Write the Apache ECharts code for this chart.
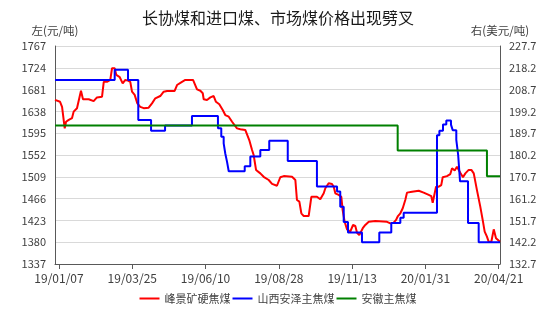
<!DOCTYPE html>
<html><head><meta charset="utf-8">
<script src="https://cdn.jsdelivr.net/npm/echarts@6/dist/echarts.min.js"></script>
<style>html,body{margin:0;padding:0;background:#fff}#c{width:556px;height:312px}</style>
</head><body><div id="c"></div>
<script>
const titleText = '长协煤和进口煤、市场煤价格出现劈叉';
const leftAxisName = '左(元/吨)';
const rightAxisName = '右(美元/吨)';
const seriesNames = ['峰景矿硬焦煤', '山西安泽主焦煤', '安徽主焦煤'];
const seriesColors = ['#ff0000', '#0000ff', '#008000'];
// x: trading-day index; tick labels every 55 days
const xTickPositions = [0, 55, 110, 165, 220, 275, 330];
const xTickLabels = ['19/01/07', '19/03/25', '19/06/10', '19/08/28', '19/11/13', '20/01/31', '20/04/21'];
const leftTicks = [1337, 1380, 1423, 1466, 1509, 1552, 1595, 1638, 1681, 1724, 1767];
const rightTicks = [132.7, 142.2, 151.7, 161.2, 170.7, 180.2, 189.7, 199.2, 208.7, 218.2, 227.7];

// 峰景矿硬焦煤 (USD/t, right axis): [day, value]
const redPoints = [[-3,204.2],[0.8,203.4],[2.3,201.2],[3.5,201.2],[4.3,191.8],[5.3,194.7],[7.3,195.5],[9.8,196.3],[11.0,199.1],[13.5,200.6],[14.8,200.6],[16.5,208.2],[18.0,204.5],[22.3,204.5],[26.0,203.7],[28.5,205.3],[32.3,205.6],[33.6,212.1],[36.0,212.1],[38.5,212.9],[39.8,218.0],[41.8,218.0],[43.0,215.1],[45.6,214.1],[47.8,211.4],[49.8,212.9],[51.8,212.6],[53.5,212.1],[54.8,207.8],[56.8,206.4],[58.8,202.7],[61.0,201.2],[63.6,200.6],[67.3,200.8],[69.8,202.7],[72.3,204.9],[76.0,205.9],[78.6,207.8],[81.1,208.1],[86.8,208.1],[88.6,210.7],[92.3,212.1],[94.8,212.9],[100.6,212.9],[103.6,208.8],[106.1,208.2],[107.9,207.1],[108.6,204.5],[111.1,204.2],[113.6,205.3],[116.1,205.9],[117.8,203.4],[120.3,202.3],[122.9,199.8],[124.8,197.6],[127.4,196.9],[129.9,194.7],[133.6,191.8],[136.1,191.4],[139.8,191.1],[142.8,186.7],[144.9,182.4],[146.1,180.2],[147.9,173.7],[151.1,172.2],[153.6,170.7],[157.4,169.3],[159.9,167.6],[163.6,166.8],[164.4,166.4],[166.1,170.5],[168.7,171.0],[174.9,170.7],[177.4,169.3],[178.6,160.6],[180.4,159.9],[181.9,154.8],[183.7,153.6],[187.4,153.6],[189.4,162.0],[193.6,162.0],[196.1,160.9],[198.7,163.5],[199.9,165.7],[202.4,167.9],[204.9,167.6],[206.2,166.4],[207.4,163.5],[209.9,162.8],[211.9,162.0],[212.9,156.2],[214.4,151.1],[216.2,147.8],[218.6,146.8],[220.7,149.7],[222.4,149.3],[223.7,146.3],[225.4,145.3],[226.9,146.1],[228.0,148.3],[229.9,149.7],[232.5,151.1],[237.4,151.4],[246.2,151.1],[248.7,150.4],[251.2,150.7],[253.0,151.9],[254.4,153.6],[256.2,154.8],[258.0,157.0],[259.9,160.6],[261.2,163.8],[265.0,164.2],[270.0,164.6],[273.7,163.8],[277.5,162.8],[279.4,162.3],[280.5,159.4],[281.7,162.8],[283.0,166.4],[285.0,166.4],[286.9,167.1],[288.0,170.5],[291.2,171.0],[293.7,171.9],[295.0,174.4],[297.0,173.4],[298.7,175.1],[301.2,172.5],[303.2,170.5],[305.0,172.2],[307.5,173.7],[309.5,173.7],[311.3,172.2],[313.7,164.9],[316.2,157.7],[318.0,151.9],[319.5,146.8],[321.2,144.6],[322.5,142.4],[324.5,142.4],[326.3,147.8],[328.0,143.9],[331,142.4]];

// 山西安泽主焦煤 (CNY/t, left axis): change points [day, value]
const bluePoints = [[-3,1700],[41.8,1720],[51.8,1700],[59.5,1621],[69.1,1600],[79.6,1610],[99.8,1629],[119.3,1605],[121.8,1588],[123.6,1575],[124.8,1555],[126.1,1539],[127.4,1520],[139.4,1530],[143.6,1549],[151.1,1562],[157.8,1580],[171.7,1540],[193.6,1490],[208.7,1480],[211.1,1450],[213.7,1420],[216.9,1399],[227.4,1380],[240.4,1399],[249.4,1418],[256.2,1428],[258.7,1438],[283.7,1591],[285.5,1600],[288.2,1612],[290.7,1620],[294.2,1612],[295.5,1601],[298.2,1582],[299.6,1552],[301.0,1500],[307.0,1418],[315.0,1380],[331,1380]];

// 安徽主焦煤 (CNY/t, left axis): change points [day, value]
const greenPoints = [[-3,1610],[254.2,1561],[321.2,1510],[331,1510]];

const FONT = '"Noto Sans CJK SC", "Noto Sans", sans-serif';
const AXIS_COLOR = '#595959';
const TEXT_COLOR = '#404040';

const chart = echarts.init(document.getElementById('c'), null, {renderer: 'canvas'});
chart.setOption({
  animation: false,
  backgroundColor: '#fff',
  textStyle: {fontFamily: FONT},
  title: {
    text: titleText, left: 'center', top: 5,
    textStyle: {fontSize: 16, fontWeight: 'normal', color: '#1a1a1a', fontFamily: FONT}
  },
  legend: {
    bottom: 3, left: 'center', itemGap: 2, itemWidth: 20, itemHeight: 2, icon: 'rect',
    textStyle: {fontSize: 11, color: TEXT_COLOR, fontFamily: FONT},
    data: seriesNames
  },
  grid: {left: 55, right: 56, top: 46, bottom: 48},
  xAxis: {
    type: 'value', min: -3, max: 331,
    axisLine: {show: true, onZero: false, lineStyle: {color: AXIS_COLOR, width: 1}},
    axisTick: {show: true, customValues: xTickPositions, length: 5, lineStyle: {color: AXIS_COLOR}},
    axisLabel: {
      customValues: xTickPositions, margin: 8, fontSize: 12, color: TEXT_COLOR, fontFamily: FONT,
      formatter: v => xTickLabels[xTickPositions.indexOf(v)]
    },
    splitLine: {show: false}
  },
  yAxis: [{
    type: 'value', min: 1337, max: 1767, position: 'left',
    name: leftAxisName, nameLocation: 'end', nameGap: 10,
    nameTextStyle: {fontSize: 11.5, color: TEXT_COLOR, fontFamily: FONT},
    axisLine: {show: true, onZero: false, lineStyle: {color: AXIS_COLOR, width: 1}},
    axisTick: {show: false, customValues: leftTicks},
    axisLabel: {customValues: leftTicks, margin: 9, fontSize: 11, color: TEXT_COLOR, fontFamily: FONT,
      formatter: v => String(v)},
    splitLine: {show: true, lineStyle: {color: '#d9d9d9', width: 1}}
  }, {
    type: 'value', min: 132.7, max: 227.7, position: 'right',
    name: rightAxisName, nameLocation: 'end', nameGap: 10,
    nameTextStyle: {fontSize: 11.5, color: TEXT_COLOR, fontFamily: FONT},
    axisLine: {show: true, onZero: false, lineStyle: {color: AXIS_COLOR, width: 1}},
    axisTick: {show: false, customValues: rightTicks},
    axisLabel: {customValues: rightTicks, margin: 9, fontSize: 11, color: TEXT_COLOR, fontFamily: FONT,
      formatter: v => v.toFixed(1)},
    splitLine: {show: false}
  }],
  series: [{
    name: seriesNames[0], type: 'line', yAxisIndex: 1, data: redPoints,
    showSymbol: false, symbol: 'none', color: seriesColors[0],
    lineStyle: {width: 2, color: seriesColors[0]}, emphasis: {disabled: true}
  }, {
    name: seriesNames[1], type: 'line', yAxisIndex: 0, data: bluePoints, step: 'end',
    showSymbol: false, symbol: 'none', color: seriesColors[1],
    lineStyle: {width: 2, color: seriesColors[1]}, emphasis: {disabled: true}
  }, {
    name: seriesNames[2], type: 'line', yAxisIndex: 0, data: greenPoints, step: 'end',
    showSymbol: false, symbol: 'none', color: seriesColors[2],
    lineStyle: {width: 2, color: seriesColors[2]}, emphasis: {disabled: true}
  }]
});
</script>
</body></html>
